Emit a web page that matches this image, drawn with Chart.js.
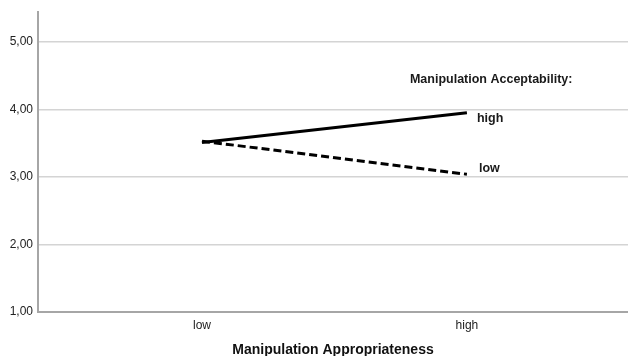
<!DOCTYPE html>
<html>
<head>
<meta charset="utf-8">
<script src="https://cdn.jsdelivr.net/npm/chart.js@4/dist/chart.umd.min.js"></script>
<style>
  html, body { margin: 0; padding: 0; background: #fff; }
  #wrap { width: 628px; height: 356px; position: relative; }
</style>
</head>
<body>
<div id="wrap"><canvas id="myChart"></canvas></div>
<script>
var categories = ['low', 'high'];
var seriesNames = ['high', 'low'];
var highValues = [3.51, 3.95];
var lowValues = [3.53, 3.04];
var yTicks = [1, 2, 3, 4, 5];
var legendTitle = 'Manipulation Acceptability:';

var FONT = "Arial, 'Liberation Sans', sans-serif";

function toPoints(vals) {
  return vals.map(function (v, i) { return { x: i, y: v }; });
}

// draws the series names at the line ends + legend title
var endLabels = {
  id: 'endLabels',
  afterDatasetsDraw: function (chart) {
    var ctx = chart.ctx;
    var xs = chart.scales.x, ys = chart.scales.y;
    ctx.save();
    ctx.fillStyle = '#1a1a1a';
    ctx.textBaseline = 'middle';
    ctx.textAlign = 'left';
    ctx.font = 'bold 12.5px ' + FONT;
    chart.data.datasets.forEach(function (ds, i) {
      var pts = chart.getDatasetMeta(i).data;
      var p = pts[pts.length - 1];
      ctx.fillText(ds.label, p.x + 10 + (ds.labelDx || 0), p.y + ds.labelDy);
    });
    ctx.fillText(legendTitle, xs.getPixelForValue(1) - 57, ys.getPixelForValue(4.44));
    ctx.restore();
  }
};

new Chart('myChart', {
  type: 'line',
  data: {
    datasets: [{
      label: seriesNames[0],
      data: toPoints(highValues),
      borderColor: '#000',
      borderWidth: 3,
      pointRadius: 0,
      labelDy: 6
    }, {
      label: seriesNames[1],
      data: toPoints(lowValues),
      borderColor: '#000',
      borderWidth: 3,
      borderDash: [8, 4],
      pointRadius: 0,
      labelDy: -6,
      labelDx: 2
    }]
  },
  options: {
    responsive: true,
    maintainAspectRatio: false,
    animation: false,
    layout: { padding: { top: 12, right: 0, left: 0, bottom: 0 } },
    plugins: {
      legend: { display: false },
      tooltip: { enabled: false }
    },
    scales: {
      x: {
        type: 'linear',
        min: -0.619,
        max: 1.608,
        afterBuildTicks: function (axis) {
          axis.ticks = categories.map(function (c, i) { return { value: i }; });
        },
        afterFit: function (axis) { axis.height = 44; },
        ticks: {
          callback: function (v) { return categories[v]; },
          color: '#222',
          font: { family: FONT, size: 12 },
          padding: 6,
          maxRotation: 0
        },
        grid: { display: false, drawTicks: false },
        border: { display: true, color: '#a6a6a6', width: 2 },
        title: {
          display: true,
          text: 'Manipulation Appropriateness',
          color: '#111',
          font: { family: FONT, size: 14, weight: 'bold' },
          padding: { top: 4, bottom: -3 }
        }
      },
      y: {
        min: 1,
        max: 5.44,
        afterBuildTicks: function (axis) {
          axis.ticks = yTicks.map(function (v) { return { value: v }; });
        },
        afterFit: function (axis) { axis.width = 38; },
        ticks: {
          callback: function (v) { return v.toFixed(2).replace('.', ','); },
          color: '#222',
          font: { family: FONT, size: 12 },
          padding: 5
        },
        grid: { color: '#d4d4d4', lineWidth: 1.5, drawTicks: false },
        border: { display: true, color: '#a6a6a6', width: 2 }
      }
    }
  },
  plugins: [endLabels]
});
</script>
</body>
</html>
